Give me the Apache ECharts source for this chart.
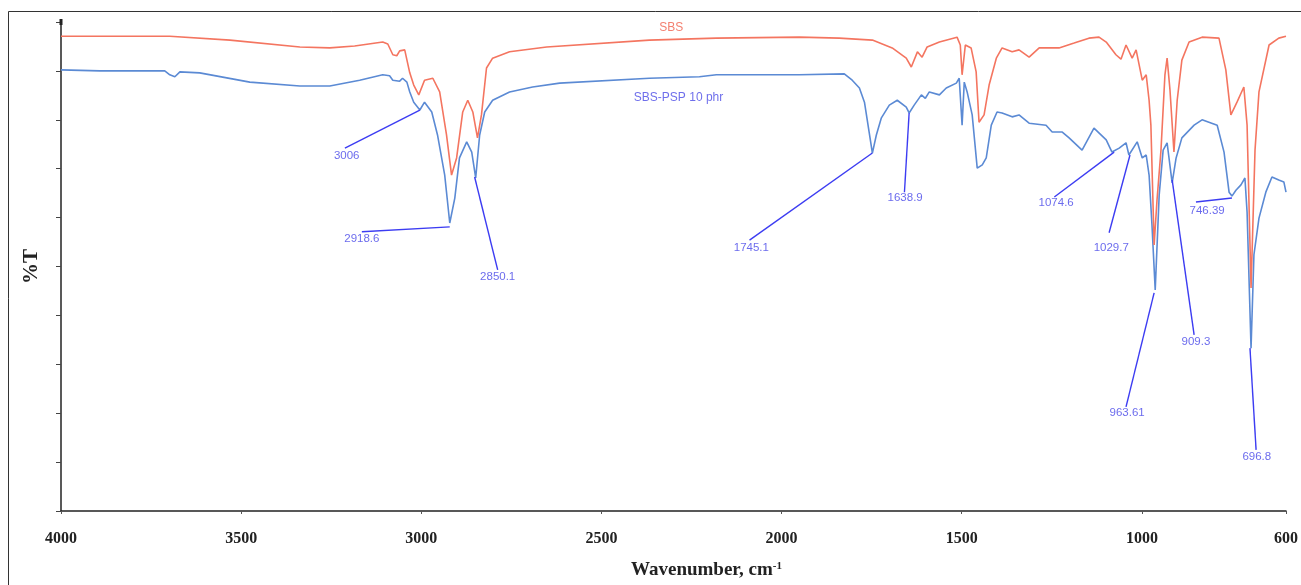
<!DOCTYPE html>
<html>
<head>
<meta charset="utf-8">
<script src="https://cdn.jsdelivr.net/npm/echarts@6/dist/echarts.min.js"></script>
<style>
html,body{margin:0;padding:0;background:#fff;}
#chart{width:1301px;height:585px;}
</style>
</head>
<body>
<div id="chart"></div>
<script>
// ---- Data (wavenumber cm-1, %T) ----
const xTicks = [4000, 3500, 3000, 2500, 2000, 1500, 1000, 600];
const sbsData = [
[4000,97.1],[3698,97.1],[3531,96.3],[3337,94.9],[3254,94.7],[3185,95.1],[3107,95.9],[3093,95.5],
[3079,93.3],[3068,93.1],[3060,94.1],[3046,94.3],[3032,89.6],[3021,87.1],[3007,85.1],[2991,88.1],
[2968,88.5],[2949,85.7],[2930,76.9],[2916,68.7],[2902,72.2],[2885,81.6],[2871,84.0],[2857,81.6],
[2844,76.3],[2833,81.0],[2819,90.6],[2802,92.6],[2755,93.9],[2652,94.9],[2367,96.3],[2181,96.7],
[1951,96.9],[1840,96.7],[1748,96.3],[1693,94.7],[1654,92.6],[1640,90.8],[1623,93.9],[1610,92.8],
[1596,94.9],[1562,95.9],[1513,96.9],[1504,95.3],[1499,89.2],[1490,95.3],[1474,94.7],[1460,89.8],
[1452,79.5],[1438,81.0],[1424,87.1],[1404,92.6],[1388,94.7],[1360,93.9],[1341,94.3],[1313,92.8],
[1285,94.7],[1230,94.7],[1188,95.7],[1147,96.7],[1119,96.9],[1099,95.9],[1072,93.3],[1058,92.4],
[1044,95.3],[1027,92.6],[1016,94.3],[999,88.1],[988,89.2],[980,84.0],[975,78.9],[966,54.4],
[958,63.6],[947,73.8],[936,89.2],[930,92.6],[922,86.1],[911,73.4],[902,84.0],[889,92.2],
[869,95.9],[833,96.9],[786,96.7],[767,90.2],[753,81.0],[736,83.6],[717,86.7],[708,78.9],
[697,45.6],[686,73.8],[675,85.7],[647,95.3],[620,96.7],[600,97.1]
];
const pspData = [
[4000,90.2],[3892,90.0],[3712,90.0],[3698,89.2],[3684,88.8],[3670,89.8],[3615,89.6],[3476,87.7],
[3337,86.9],[3254,86.9],[3171,88.1],[3107,89.2],[3088,89.0],[3079,88.1],[3060,87.9],[3052,88.5],
[3040,87.7],[3032,85.7],[3021,83.6],[3004,82.0],[2991,83.6],[2971,81.6],[2955,76.9],[2935,68.7],
[2921,58.9],[2907,64.0],[2894,72.2],[2874,75.5],[2860,73.4],[2849,68.1],[2838,76.9],[2824,81.6],
[2802,84.0],[2755,85.7],[2691,86.7],[2616,87.5],[2367,88.5],[2228,88.8],[2181,89.2],[1951,89.2],
[1826,89.4],[1804,88.1],[1784,86.5],[1770,83.6],[1757,77.5],[1748,73.2],[1737,76.9],[1723,80.4],
[1701,83.0],[1679,84.0],[1654,82.6],[1646,81.4],[1632,83.0],[1612,85.1],[1601,84.4],[1590,85.7],
[1562,85.1],[1543,86.5],[1515,87.5],[1507,88.5],[1499,78.9],[1493,87.7],[1485,85.7],[1471,81.0],
[1457,70.1],[1443,70.8],[1432,72.2],[1418,78.9],[1402,81.6],[1388,81.4],[1360,80.6],[1341,81.0],
[1313,79.3],[1266,78.9],[1249,77.5],[1221,77.5],[1202,76.3],[1166,73.8],[1133,78.3],[1099,75.9],
[1083,73.4],[1063,74.2],[1044,75.3],[1036,72.8],[1013,75.5],[999,72.2],[988,72.8],[980,68.7],
[972,58.5],[963,45.2],[952,64.6],[941,73.8],[930,75.3],[916,67.1],[905,72.2],[889,76.3],
[855,78.9],[833,80.0],[791,78.9],[772,73.4],[758,65.2],[750,64.4],[739,65.6],[725,66.7],
[714,68.1],[708,61.1],[697,33.3],[689,52.4],[675,59.9],[656,65.2],[639,68.3],[620,67.7],
[606,67.3],[600,65.2]
];
// Peak annotations: label text, peak point, leader end, label centre
const peakText = ['3006','2918.6','2850.1','1745.1','1638.9','1074.6','1029.7','963.61','909.3','746.39','696.8'];
const peakW    = [3004, 2921, 2852, 1748, 1646, 1077, 1033, 966, 916, 750, 700];
const peakT    = [82.0, 58.1, 68.3, 73.2, 81.4, 73.4, 72.8, 44.6, 67.7, 64.0, 33.3];
const endW     = [3212, 3165, 2788, 2089, 1659, 1243, 1091, 1044, 855, 850, 683];
const endT     = [74.2, 57.1, 49.3, 55.4, 65.2, 64.2, 56.9, 21.3, 36.0, 63.2, 12.5];
const labelW   = [3207, 3165, 2788, 2084, 1657, 1238, 1085, 1041, 850, 819, 681];
const labelT   = [72.6, 55.6, 47.9, 53.8, 64.0, 63.0, 53.8, 20.0, 34.6, 61.3, 11.0];
// Series name labels
const seriesNames = ['SBS', 'SBS-PSP 10 phr'];
const seriesLabelW = [2306, 2286];
const seriesLabelT = [98.8, 84.5];

const RED = '#F47560';
const BLUE = '#5B8AD4';
const ANN = '#3C3CF2';

const chart = echarts.init(document.getElementById('chart'), null, {renderer: 'canvas'});
const option = {
  animation: false,
  backgroundColor: '#fff',
  grid: {left: 61, right: 14, top: 22, bottom: 74, containLabel: false},
  xAxis: {
    type: 'value', inverse: true, min: 600, max: 4000,
    name: '{a|Wavenumber, cm}{s|-1}', nameLocation: 'middle', nameGap: 50,
    nameTextStyle: {
      padding: [0, 0, 0, 66],
      rich: {
        a: {fontFamily: 'Liberation Serif', fontWeight: 'bold', fontSize: 19, color: '#222'},
        s: {fontFamily: 'Liberation Serif', fontWeight: 'bold', fontSize: 11, color: '#222', verticalAlign: 'top', padding: [0, 0, 8, 0]}
      }
    },
    axisLine: {show: true, onZero: false, lineStyle: {color: '#222', width: 1.5}},
    axisTick: {show: true, customValues: xTicks, length: 3, inside: false, lineStyle: {color: '#555'}},
    axisLabel: {show: true, customValues: xTicks, margin: 20, formatter: v => String(v), fontFamily: 'Liberation Serif', fontWeight: 'bold', fontSize: 16, color: '#222'},
    splitLine: {show: false}
  },
  yAxis: {
    type: 'value', min: 0, max: 100, interval: 10,
    name: '%T', nameLocation: 'middle', nameGap: 19, nameRotate: 90,
    nameTextStyle: {fontFamily: 'Liberation Serif', fontWeight: 'bold', fontSize: 21, color: '#222'},
    axisLine: {show: true, onZero: false, lineStyle: {color: '#222', width: 1.5}, symbol: ['none', 'rect'], symbolSize: [3, 6]},
    axisTick: {show: true, length: 5, lineStyle: {color: '#444'}},
    axisLabel: {show: false},
    splitLine: {show: false}
  },
  graphic: [{
    type: 'rect', silent: true, z: -1,
    shape: {x: 8.5, y: 11.5, width: 1310, height: 620},
    style: {fill: 'none', stroke: '#333', lineWidth: 1}
  }],
  series: [
    {
      name: 'SBS', type: 'line', data: sbsData, symbol: 'none', smooth: false,
      lineStyle: {color: RED, width: 1.6}, z: 3
    },
    {
      name: 'SBS-PSP 10 phr', type: 'line', data: pspData, symbol: 'none', smooth: false,
      lineStyle: {color: BLUE, width: 1.6}, z: 2
    },
    {
      name: 'peakLines', type: 'line', data: [], symbol: 'none',
      markLine: {
        silent: true, symbol: 'none', animation: false,
        label: {show: false},
        lineStyle: {color: ANN, width: 1.4, type: 'solid'},
        emphasis: {disabled: true},
        data: peakText.map((t, i) => [{coord: [peakW[i], peakT[i]]}, {coord: [endW[i], endT[i]]}])
      },
      z: 4
    },
    {
      name: 'peakLabels', type: 'scatter', symbolSize: 0, silent: true,
      data: peakText.map((t, i) => [labelW[i], labelT[i], t]),
      label: {show: true, position: 'inside', formatter: p => p.value[2], fontFamily: 'Liberation Sans', fontSize: 11.5, color: '#4646E8'},
      z: 5
    },
    {
      name: 'seriesLabels', type: 'scatter', symbolSize: 0, silent: true,
      data: seriesNames.map((t, i) => ({
        value: [seriesLabelW[i], seriesLabelT[i], t],
        label: {color: i === 0 ? '#F0604C' : '#4A4AE6'}
      })),
      label: {
        show: true, position: 'inside', fontFamily: 'Liberation Sans', fontSize: 12,
        formatter: p => p.value[2]
      },
      itemStyle: {color: 'transparent'},
      z: 5
    }
  ]
};
chart.setOption(option);
</script>
</body>
</html>
